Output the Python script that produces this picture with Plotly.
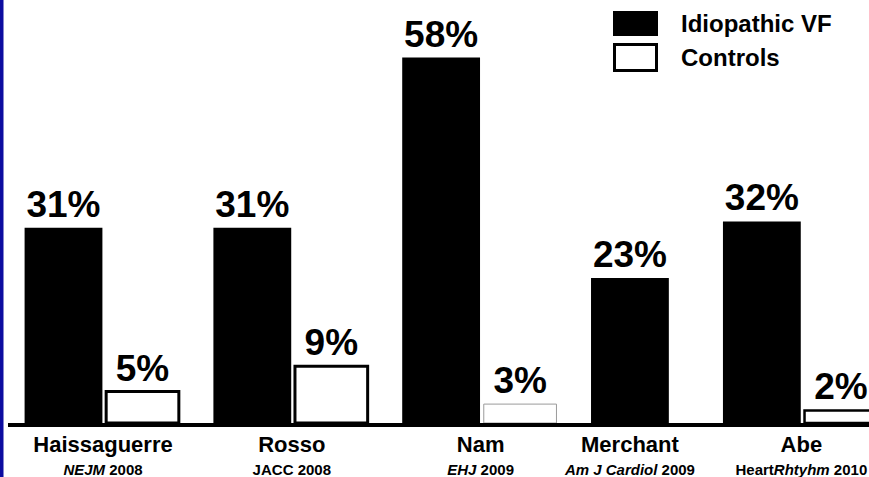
import plotly.graph_objects as go

# ---------------- data ----------------
studies = ["Haissaguerre", "Rosso", "Nam", "Merchant", "Abe"]
journals = ["<i>NEJM</i> 2008", "JACC 2008", "<i>EHJ</i> 2009",
            "<i>Am J Cardiol</i> 2009", "Heart<i>Rhtyhm</i> 2010"]
idiopathic_vf = [31, 31, 58, 23, 32]
controls = [5, 9, 3, None, 2]
series_names = ["Idiopathic VF", "Controls"]

# ---------------- layout parameters ----------------
W, H = 869, 477
ML, MR, MT, MB = 8, 0, 0, 54
PW, PH = W - ML - MR, H - MT - MB
GROUP_GAP = 0.39          # gap between study groups (in bar slots)
SINGLE_EXTRA_GAP = 0.28   # extra space after a study without a control bar
FONT = "Liberation Sans, Arial, Helvetica, sans-serif"

# slot positions derived from which bars exist in each study
vf_x, ctrl_x, ctrl_y, tick_x = [], [], [], []
pos = 0.0
for v, c in zip(idiopathic_vf, controls):
    vf_x.append(pos)
    if c is None:
        tick_x.append(pos)
        pos += 1 + GROUP_GAP + SINGLE_EXTRA_GAP
    else:
        ctrl_x.append(pos + 1)
        ctrl_y.append(c)
        tick_x.append(pos + 0.5)
        pos += 2 + GROUP_GAP

ctrl_line_w = [3, 3, 1, 2.5]
ctrl_line_c = ["black", "black", "#9a9a9a", "black"]

ticktext = [f"<span style='font-size:22px'><b>{s}</b></span><br>"
            f"<span style='font-size:15px'><b>{j}</b></span>"
            for s, j in zip(studies, journals)]

label_font = dict(family=FONT, size=37, color="black", weight="bold")

fig = go.Figure()
fig.add_trace(go.Bar(
    x=vf_x, y=idiopathic_vf, name=series_names[0], width=0.985,
    marker=dict(color="black", line=dict(width=0)),
    texttemplate="%{y}%", textposition="outside", constraintext="none",
    textfont=label_font, cliponaxis=False,
    showlegend=False,
))
fig.add_trace(go.Bar(
    x=ctrl_x, y=ctrl_y, name=series_names[1], width=0.92,
    marker=dict(color="white", line=dict(width=ctrl_line_w, color=ctrl_line_c)),
    texttemplate="%{y}%", textposition="outside", constraintext="none",
    textfont=label_font, cliponaxis=False,
    showlegend=False,
))

# pixel -> paper helpers for legend/decoration
def px(x):
    return (x - ML) / PW

def py(y):
    return 1 - (y - MT) / PH

shapes = [
    # blue slide border on the left
    dict(type="rect", xref="paper", yref="paper", x0=px(0), x1=px(3.5),
         y0=py(H + 10), y1=py(-5), fillcolor="#0c0ca0", line=dict(width=0), layer="above"),
    # legend swatches
    dict(type="rect", xref="paper", yref="paper", x0=px(613), x1=px(658),
         y0=py(36), y1=py(11), fillcolor="black", line=dict(width=0)),
    dict(type="rect", xref="paper", yref="paper", x0=px(614.5), x1=px(656.5),
         y0=py(70.5), y1=py(44.5), fillcolor="white", line=dict(width=3, color="black")),
]
annotations = [
    dict(xref="paper", yref="paper", x=px(679), y=py(23.5), xanchor="left", yanchor="middle",
         text=f"<b>{series_names[0]}</b>", showarrow=False,
         font=dict(family=FONT, size=24, color="black")),
    dict(xref="paper", yref="paper", x=px(679), y=py(57.5), xanchor="left", yanchor="middle",
         text=f"<b>{series_names[1]}</b>", showarrow=False,
         font=dict(family=FONT, size=24, color="black")),
]

slot_px = 79.0
x0_data = (ML - 63.5) / slot_px
x1_data = x0_data + PW / slot_px

fig.update_layout(
    width=W, height=H,
    margin=dict(l=ML, r=MR, t=MT, b=MB, pad=0, autoexpand=False),
    paper_bgcolor="white", plot_bgcolor="white",
    barmode="overlay",
    showlegend=False,
    shapes=shapes, annotations=annotations,
    xaxis=dict(range=[x0_data, x1_data], showgrid=False, zeroline=False,
               showline=True, linewidth=4, linecolor="black", ticks="",
               tickmode="array", tickvals=tick_x, ticktext=ticktext,
               tickfont=dict(family=FONT, size=18, color="black"),
               ticklabelstandoff=3, automargin=False, fixedrange=True),
    yaxis=dict(range=[0, PH / 6.3], visible=False, automargin=False, fixedrange=True),
    font=dict(family=FONT, color="black"),
)

fig.write_html("out.html", config={"displayModeBar": False})
